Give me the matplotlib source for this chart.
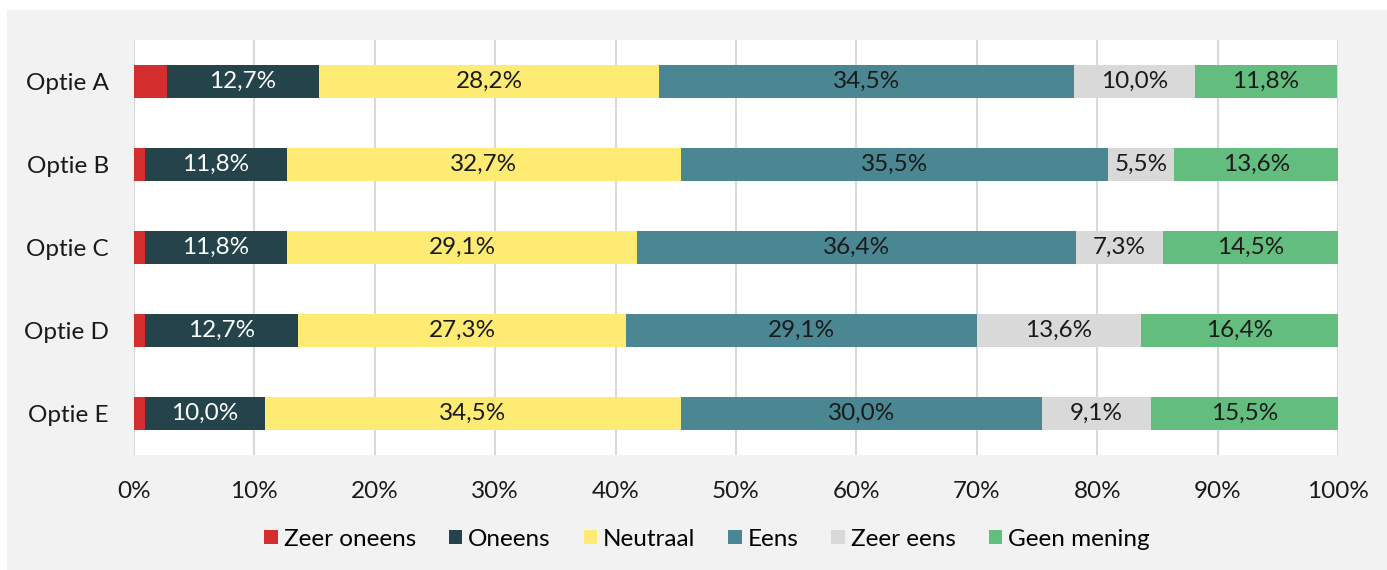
import numpy as np
import matplotlib.pyplot as plt
from matplotlib.patches import Rectangle

plt.rcParams['font.family'] = ['Lato', 'DejaVu Sans']

opties = ['Optie A', 'Optie B', 'Optie C', 'Optie D', 'Optie E']
categories = ['Zeer oneens', 'Oneens', 'Neutraal', 'Eens', 'Zeer eens', 'Geen mening']
zeer_oneens = [2.7, 0.9, 0.9, 0.9, 0.9]
oneens = [12.7, 11.8, 11.8, 12.7, 10.0]
neutraal = [28.2, 32.7, 29.1, 27.3, 34.5]
eens = [34.5, 35.5, 36.4, 29.1, 30.0]
zeer_eens = [10.0, 5.5, 7.3, 13.6, 9.1]
geen_mening = [11.8, 13.6, 14.5, 16.4, 15.5]

series = [zeer_oneens, oneens, neutraal, eens, zeer_eens, geen_mening]
colors = ['#d42e2e', '#25434b', '#fdeb73', '#4a8793', '#d9d9d9', '#62bd7f']
text_colors = [None, 'white', '#1a1a1a', '#1a1a1a', '#1a1a1a', '#1a1a1a']
fs = 17.5

fig = plt.figure(figsize=(13.87, 5.70), dpi=100, facecolor='white')
fig.patches.append(Rectangle((7 / 1387, 0), 1 - 7 / 1387, 1 - 10 / 570,
                             transform=fig.transFigure, facecolor='#f2f2f2',
                             edgecolor='none', zorder=-10))

ax = fig.add_axes([134 / 1387, 1 - 455 / 570, (1338 - 134) / 1387, (455 - 40) / 570])
ax.set_facecolor('white')

y = np.arange(len(opties))
left = np.zeros(len(opties))
for vals, name, col, tc in zip(series, categories, colors, text_colors):
    vals = np.array(vals) / 100
    bars = ax.barh(y, vals, left=left, height=0.4, color=col, label=name, zorder=3)
    if tc is not None:
        labels = [f'{v * 100:.1f}%'.replace('.', ',') for v in vals]
        ax.bar_label(bars, labels=labels, label_type='center', color=tc, fontsize=fs)
    left += vals

ax.set_xlim(0, 1)
ax.set_ylim(len(opties) - 0.5, -0.5)
ax.set_yticks(y)
ax.set_yticklabels(opties)
ax.set_xticks(np.linspace(0, 1, 11))
ax.set_xticklabels([f'{i}%' for i in range(0, 101, 10)])
ax.tick_params(length=0, labelsize=fs, colors='#1a1a1a')
ax.tick_params(axis='y', pad=18)
ax.tick_params(axis='x', pad=19)
ax.grid(axis='x', color='#d9d9d9', linewidth=1.5, zorder=0)
for s in ax.spines.values():
    s.set_visible(False)

fig.legend(loc='center', bbox_to_anchor=(707 / 1387, 1 - 539 / 570), ncol=6,
           frameon=False, fontsize=fs, handlelength=0.55, handleheight=0.55,
           handletextpad=0.25, columnspacing=1.35)

fig.savefig('out.png', dpi=100, facecolor=fig.get_facecolor())
